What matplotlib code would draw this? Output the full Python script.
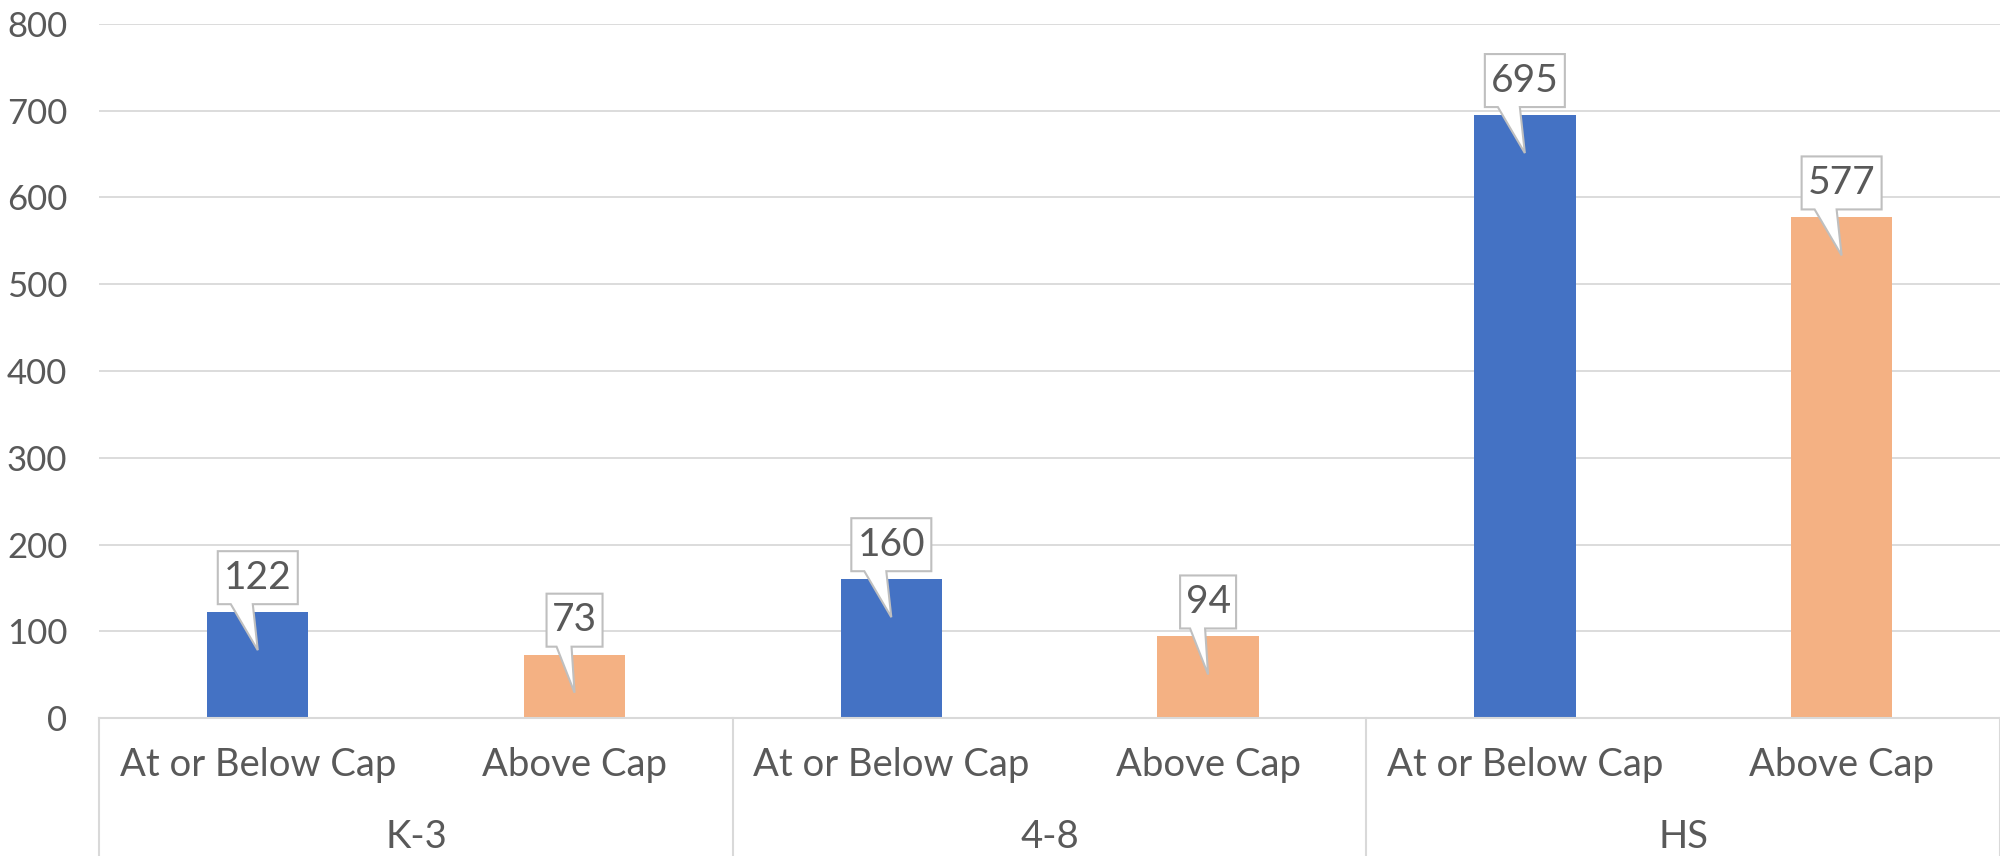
import matplotlib.pyplot as plt
from matplotlib.patches import Polygon
from matplotlib.transforms import Affine2D, ScaledTranslation

# data
groups = ['K-3', '4-8', 'HS']
sub_labels = ['At or Below Cap', 'Above Cap']
at_or_below = [122, 160, 695]
above = [73, 94, 577]
yticks = [0, 100, 200, 300, 400, 500, 600, 700, 800]

blue = '#4472C4'
orange = '#F4B183'
grid_c = '#D9D9D9'
text_c = '#595959'

plt.rcParams['font.family'] = ['Lato', 'DejaVu Sans']

fig = plt.figure(figsize=(20, 8.56), dpi=100)
ax = fig.add_axes([0.0497, 0.1612, 0.9503, 0.8108])

values = []
colors = []
for a, b in zip(at_or_below, above):
    values += [a, b]
    colors += [blue, orange]
xs = list(range(len(values)))

ax.bar(xs, values, width=0.32, color=colors, zorder=2)

ax.set_xlim(-0.5, len(values) - 0.5)
ax.set_ylim(0, 800)
ax.set_yticks(yticks)
ax.yaxis.grid(True, color=grid_c, linewidth=1.3, zorder=0)
ax.tick_params(axis='y', length=0, pad=23, labelsize=25, labelcolor=text_c)
ax.set_xticks([])
for s in ['top', 'right', 'left']:
    ax.spines[s].set_visible(False)
ax.spines['bottom'].set_color(grid_c)
ax.spines['bottom'].set_linewidth(1.5)

# category axis: sub labels, group labels, dividers
xtr = ax.get_xaxis_transform()
for i, x in enumerate(xs):
    ax.text(x, -0.068, sub_labels[i % 2], transform=xtr, ha='center', va='center',
            fontsize=27.5, color=text_c)
for g, name in enumerate(groups):
    ax.text(2 * g + 0.5, -0.171, name, transform=xtr, ha='center', va='center',
            fontsize=27.5, color=text_c)
for d in [-0.5, 1.5, 3.5, 5.5]:
    ax.plot([d, d], [0, -0.3], transform=xtr, color=grid_c, linewidth=1.5, clip_on=False)

# callout data labels (offsets in pixels)
for x, v in zip(xs, values):
    label = str(v)
    hw = 40 if len(label) == 3 else 28
    b0, b1 = (-27, -5) if len(label) == 3 else (-18, -3)
    trans = Affine2D() + ScaledTranslation(x, v, ax.transData)
    verts = [(-hw, 8), (b0, 8), (0, -38), (b1, 8), (hw, 8), (hw, 61), (-hw, 61)]
    ax.add_patch(Polygon(verts, closed=True, transform=trans, facecolor='white',
                         edgecolor='#BFBFBF', linewidth=1.5, zorder=3, clip_on=False))
    ax.text(0, 34.5, label, transform=trans, ha='center', va='center',
            fontsize=28, color=text_c, zorder=4, clip_on=False)

fig.savefig('out.png', dpi=100)
